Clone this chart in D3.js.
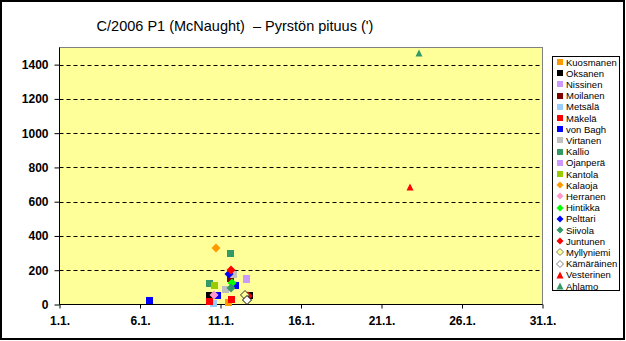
<!DOCTYPE html>
<html><head><meta charset="utf-8">
<script src="https://cdn.jsdelivr.net/npm/d3@7"></script>
<style>
body{margin:0;background:#fff}
svg{display:block}
text{font-family:Arial,"Liberation Sans",sans-serif}
</style>
</head><body>
<svg id="c" width="626" height="341"></svg>
<script>
// ---------- data ----------
const chartTitle = "C/2006 P1 (McNaught)  – Pyrstön pituus (')";
const xTickDays = [1, 6, 11, 16, 21, 26, 31];
const xTickLabels = ["1.1.", "6.1.", "11.1.", "16.1.", "21.1.", "26.1.", "31.1."];
const yTickValues = [0, 200, 400, 600, 800, 1000, 1200, 1400];
const gridValues = [200, 400, 600, 800, 1000, 1200, 1400];

const seriesNames = ["Kuosmanen","Oksanen","Nissinen","Moilanen","Metsälä","Mäkelä","von Bagh",
  "Virtanen","Kallio","Ojanperä","Kantola","Kalaoja","Herranen","Hintikka","Pelttari","Siivola",
  "Juntunen","Myllyniemi","Kämäräinen","Vesterinen","Ahlamo"];

// [day of January, tail length in arc minutes]
const kuosmanen  = [[11.47, 15]];
const oksanen    = [[10.26, 55], [12.74, 58]];
const nissinen   = [[12.57, 153]];
const moilanen   = [[11.60, 157]];
const metsala    = [[10.55, 10]];
const makela     = [[10.26, 19], [11.64, 35]];
const vonBagh    = [[6.56, 29], [10.78, 58], [11.87, 113]];
const virtanen   = [[11.25, 89], [11.77, 177]];
const kallio     = [[10.28, 124], [11.58, 299]];
const ojanpera   = [[12.57, 150]];
const kantola    = [[10.59, 113]];
const kalaoja    = [[10.71, 331]];
const herranen   = [[10.59, 54]];
const hintikka   = [[11.71, 124]];
const pelttari   = [[11.50, 177]];
const siivola    = [[11.66, 99]];
const juntunen   = [[11.64, 202], [12.70, 47]];
const myllyniemi = [[12.53, 57]];
const kamarainen = [[12.64, 27]];
const vesterinen = [[22.76, 684]];
const ahlamo     = [[23.32, 1468]];

const seriesValues = [kuosmanen, oksanen, nissinen, moilanen, metsala, makela, vonBagh,
  virtanen, kallio, ojanpera, kantola, kalaoja, herranen, hintikka, pelttari, siivola,
  juntunen, myllyniemi, kamarainen, vesterinen, ahlamo];

// ---------- styles ----------
const seriesStyle = [
  {shape:"square", fill:"#FF9900"},
  {shape:"square", fill:"#000000"},
  {shape:"square", fill:"#CC99FF"},
  {shape:"square", fill:"#800000"},
  {shape:"square", fill:"#99CCFF"},
  {shape:"square", fill:"#FF0000"},
  {shape:"square", fill:"#0000FF"},
  {shape:"square", fill:"#C0C0C0"},
  {shape:"square", fill:"#339966"},
  {shape:"square", fill:"#CC99FF"},
  {shape:"square", fill:"#99CC00"},
  {shape:"diamond", fill:"#FF9900"},
  {shape:"diamond", fill:"#FF99CC"},
  {shape:"diamond", fill:"#00FF00"},
  {shape:"diamond", fill:"#0000FF"},
  {shape:"diamond", fill:"#339966"},
  {shape:"diamond", fill:"#FF0000"},
  {shape:"diamond", fill:"#FFFF99", stroke:"#333333"},
  {shape:"diamond", fill:"#FFFFFF", stroke:"#000000"},
  {shape:"triangle", fill:"#FF0000"},
  {shape:"triangle", fill:"#339966"}
];

function markerPath(shape, s) {
  const h = s / 2;
  if (shape === "square") return `M${-h},${-h}h${s}v${s}h${-s}Z`;
  if (shape === "diamond") return `M0,${-h}L${h},0L0,${h}L${-h},0Z`;
  return `M0,${-h}L${h},${h}L${-h},${h}Z`;
}
function markerSize(shape, legend) {
  if (shape === "square") return legend ? 6 : 7;
  if (shape === "diamond") return legend ? 7 : 9;
  return 7;
}

// ---------- layout ----------
const svg = d3.select("#c");
const plot = {left: 59.5, right: 542.5, top: 47.5, bottom: 304.5};

const x = d3.scaleLinear().domain([1, 31]).range([plot.left, plot.right]);
const y = d3.scaleLinear().domain([0, 1500]).range([plot.bottom, plot.top]);

// outer frame
svg.append("rect").attr("x", 1).attr("y", 1).attr("width", 623).attr("height", 338)
  .attr("fill", "#fff").attr("stroke", "#000").attr("stroke-width", 2);

// plot area
svg.append("rect").attr("x", plot.left).attr("y", plot.top)
  .attr("width", plot.right - plot.left).attr("height", plot.bottom - plot.top)
  .attr("fill", "#FFFF99").attr("stroke", "#808080").attr("stroke-width", 1);

// gridlines
svg.append("g").selectAll("line").data(gridValues).join("line")
  .attr("x1", plot.left).attr("x2", plot.right)
  .attr("y1", d => Math.round(y(d)) + 0.5).attr("y2", d => Math.round(y(d)) + 0.5)
  .attr("stroke", "#000").attr("stroke-dasharray", "4,3");

// axes
const yAxis = d3.axisLeft(y).tickValues(yTickValues).tickSize(5).tickPadding(6)
  .tickFormat(d3.format("d"));
const gy = svg.append("g").attr("transform", `translate(${plot.left},0)`).call(yAxis);
gy.select(".domain").attr("d", `M0,${plot.top}V${plot.bottom}`).attr("stroke", "#000");
gy.selectAll("text").attr("font-size", 12).attr("font-weight", "bold")
  .attr("font-family", "Arial, 'Liberation Sans', sans-serif").attr("fill", "#000");

const xAxis = d3.axisBottom(x).tickValues(xTickDays).tickSize(4).tickPadding(8)
  .tickFormat((d, i) => xTickLabels[i]);
const gx = svg.append("g").attr("transform", `translate(0,${plot.bottom})`).call(xAxis);
gx.select(".domain").attr("d", `M${plot.left},0H${plot.right}`).attr("stroke", "#000");
gx.selectAll("text").attr("font-size", 12).attr("font-weight", "bold")
  .attr("font-family", "Arial, 'Liberation Sans', sans-serif").attr("fill", "#000");

// markers
seriesValues.forEach((pts, i) => {
  const st = seriesStyle[i];
  svg.append("g").selectAll("path").data(pts).join("path")
    .attr("d", markerPath(st.shape, markerSize(st.shape, false)))
    .attr("transform", d => `translate(${Math.round(x(d[0]))},${Math.round(y(d[1]))})`)
    .attr("fill", st.fill)
    .attr("stroke", st.stroke || "none").attr("stroke-width", 1)
    .attr("shape-rendering", st.shape === "square" ? "crispEdges" : null);
});

// title
svg.append("text").attr("x", 235).attr("y", 31).attr("text-anchor", "middle")
  .style("white-space", "pre")
  .attr("font-size", 14.5).attr("fill", "#000").text(chartTitle);

// legend
const lg = svg.append("g");
lg.append("rect").attr("x", 552.5).attr("y", 56.5).attr("width", 67).attr("height", 234)
  .attr("fill", "#fff").attr("stroke", "#000");
seriesNames.forEach((name, i) => {
  const cy = 62 + i * 11.2;
  const st = seriesStyle[i];
  lg.append("path").attr("d", markerPath(st.shape, markerSize(st.shape, true)))
    .attr("transform", `translate(560,${Math.round(cy)})`)
    .attr("fill", st.fill).attr("stroke", st.stroke ? "#808080" : "none");
  lg.append("text").attr("x", 566).attr("y", cy + 3.6).attr("font-size", 9.5)
    .attr("fill", "#000").text(name);
});
</script>
</body></html>
